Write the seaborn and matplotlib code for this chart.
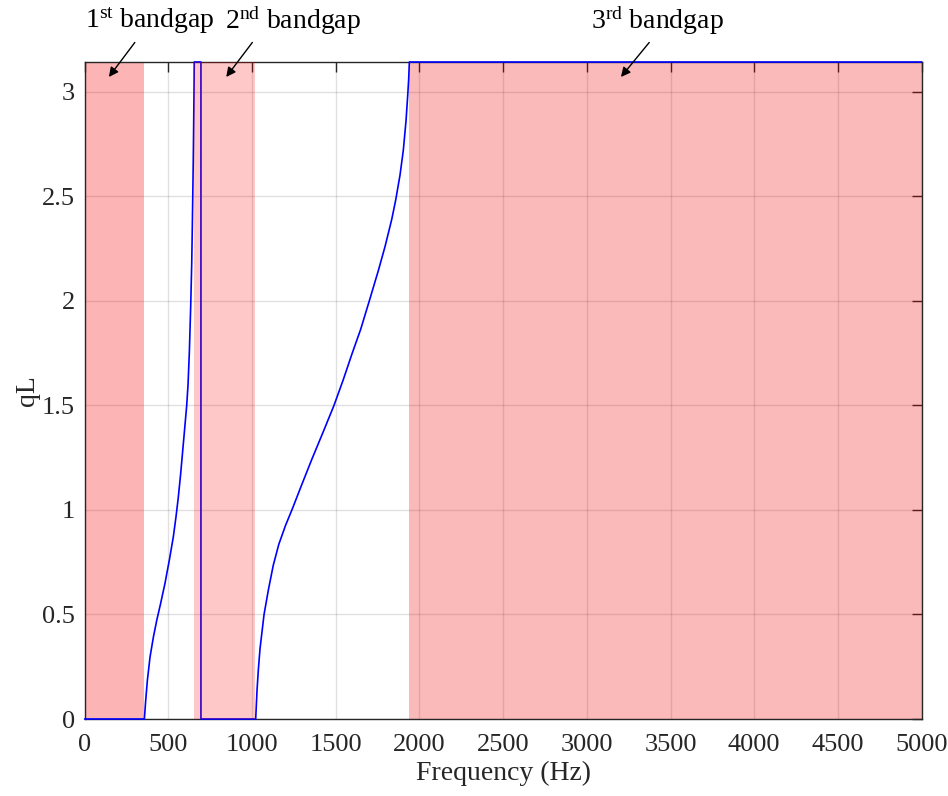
import numpy as np
import pandas as pd
import matplotlib
matplotlib.use("Agg")
import matplotlib.pyplot as plt
import seaborn as sns

# Dispersion curve: normalized wavenumber qL versus frequency
# (qL = 0 or pi inside the bandgaps)
freq_hz = [0, 357, 365, 375, 391, 411, 431, 454, 480, 506, 530, 546, 560, 574,
           590, 604, 610, 618, 626, 634, 640, 643, 646, 649, 651, 653.5, 655,
           695, 695,
           1022, 1030, 1038, 1048, 1072, 1098, 1127, 1160, 1200, 1241, 1297,
           1357, 1430, 1490, 1545, 1596, 1649, 1701, 1755, 1795, 1835, 1858,
           1884, 1904, 1920, 1930, 1936, 1940, 5000]
qL = [0, 0, 0.089, 0.185, 0.297, 0.392, 0.472, 0.552, 0.648, 0.759, 0.871,
      0.967, 1.062, 1.174, 1.318, 1.445, 1.500, 1.600, 1.760, 1.980, 2.180,
      2.330, 2.490, 2.660, 2.800, 2.990, np.pi,
      np.pi, 0,
      0, 0.137, 0.237, 0.337, 0.500, 0.618, 0.735, 0.835, 0.925, 1.005, 1.120,
      1.241, 1.382, 1.500, 1.622, 1.743, 1.863, 2.000, 2.145, 2.260, 2.390,
      2.480, 2.600, 2.720, 2.860, 2.980, 3.060, np.pi, np.pi]

# Bandgap frequency ranges (Hz)
gap_start = [0, 651, 1940]
gap_end = [354, 1016, 5000]
gap_names = ["1$^{\\mathrm{st}}$ bandgap", "2$^{\\mathrm{nd}}$ bandgap",
             "3$^{\\mathrm{rd}}$ bandgap"]
gap_colors = ["#f50000", "#ff0000", "#f00000"]
gap_alpha = [0.295, 0.215, 0.27]

x_ticks = [0, 500, 1000, 1500, 2000, 2500, 3000, 3500, 4000, 4500, 5000]
y_ticks = [0, 0.5, 1, 1.5, 2, 2.5, 3]

sns.set_theme(style="white")
plt.rcParams["font.family"] = ["Liberation Serif", "DejaVu Serif"]
plt.rcParams["mathtext.fontset"] = "custom"
plt.rcParams["mathtext.rm"] = "Liberation Serif"
plt.rcParams["mathtext.it"] = "Liberation Serif:italic"

fig = plt.figure(figsize=(9.48, 7.96), dpi=100)
ax = fig.add_axes([84.6 / 948, 77 / 796, 837 / 948, 657 / 796])

df = pd.DataFrame({"Frequency (Hz)": freq_hz, "qL": qL})

# shaded bandgaps (the second one sits over the curve)
for i, (a, b, c, al) in enumerate(zip(gap_start, gap_end, gap_colors, gap_alpha)):
    ax.axvspan(a, b, facecolor=c, edgecolor="none", alpha=al,
               zorder=3.5 if i == 1 else 1)

sns.lineplot(data=df, x="Frequency (Hz)", y="qL", ax=ax, color="#0000ff",
             linewidth=1.2, sort=False, estimator=None, zorder=3)
for ln in ax.lines:
    ln.set_clip_on(False)

ax.set_xlim(0, 5000)
ax.set_ylim(0, np.pi)
ax.set_xticks(x_ticks)
ax.set_yticks(y_ticks)
ax.set_xticklabels([str(t) for t in x_ticks])
ax.set_yticklabels([f"{t:g}" for t in y_ticks])
ax.grid(True, color="#000000", alpha=0.12, linewidth=1.0)
ax.set_axisbelow(True)
ax.tick_params(axis="both", direction="in", length=7, width=1.0, color="#262626",
               labelsize=19, top=True, right=True, labelcolor="#262626")
ax.tick_params(axis="x", pad=11)
ax.tick_params(axis="y", pad=7)
for s in ax.spines.values():
    s.set_color("#262626")
    s.set_linewidth(1.0)
    s.set_zorder(2.5)

ax.set_xlabel("Frequency (Hz)", fontsize=20, color="#262626", labelpad=3)
ax.set_ylabel("qL", fontsize=20, color="#262626", labelpad=1)

# bandgap labels with arrows
label_x = [388, 1245, 3419]
label_y = 3.34
arrow_tail = [(300, 3.235), (1002, 3.235), (3373, 3.235)]
arrow_head = [(145, 3.07), (846, 3.07), (3204, 3.07)]
for name, lx, tail, head in zip(gap_names, label_x, arrow_tail, arrow_head):
    ax.text(lx, label_y, name, ha="center", va="center", fontsize=20,
            color="black", clip_on=False)
    ax.annotate("", xy=head, xytext=tail, annotation_clip=False,
                arrowprops=dict(arrowstyle="-|>", color="black", lw=1.0,
                                mutation_scale=14, shrinkA=0, shrinkB=0),
                zorder=6)

fig.savefig("out.png", dpi=100, facecolor="white")
